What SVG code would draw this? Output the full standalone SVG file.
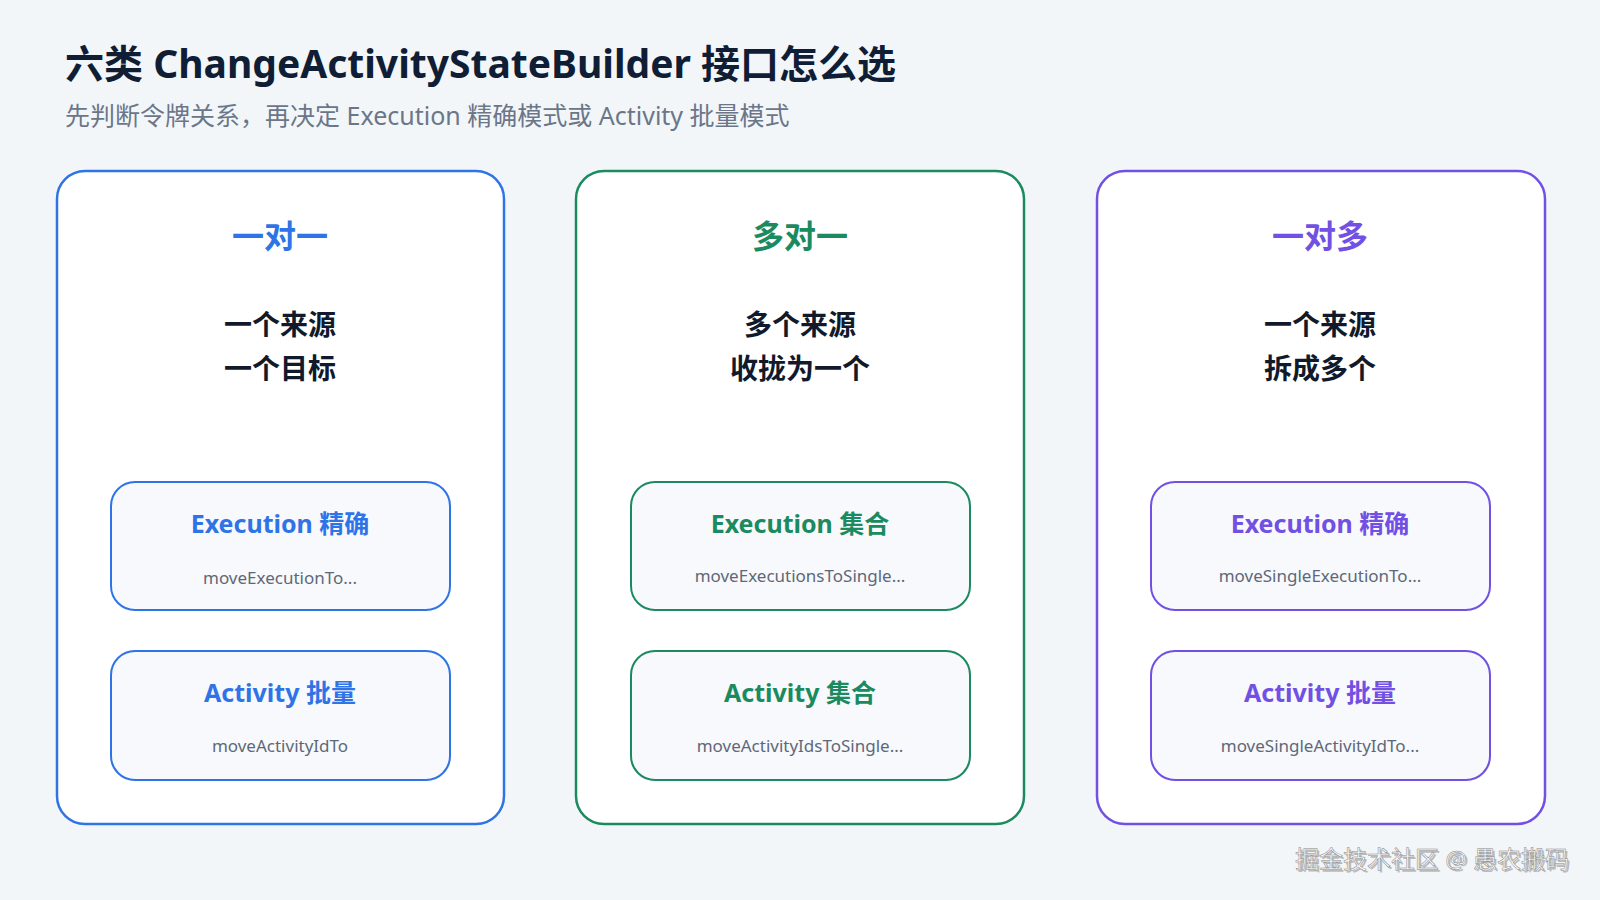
<svg xmlns="http://www.w3.org/2000/svg" width="1600" height="900" viewBox="0 0 1600 900">
<style>
text{font-family:"Noto Sans","Noto Sans CJK SC",sans-serif;text-anchor:middle}
.h{font-size:39px;font-weight:700;fill:#0f1d35;text-anchor:start}
.s{font-size:25px;fill:#6b7689;text-anchor:start}
.ct{font-size:32px;font-weight:700}
.d{font-size:28px;font-weight:700;fill:#111a2b}
.it{font-size:25px;font-weight:700}
.m{font-size:17px;fill:#5f6878}
.card{fill:#fff;stroke-width:2.5}
.box{fill:#f7f9fc;stroke-width:2}
</style>
<rect width="1600" height="900" fill="#f3f6f9"/>
<text class="h" x="65" y="78">六类 ChangeActivityStateBuilder 接口怎么选</text>
<text class="s" x="65" y="125">先判断令牌关系，再决定 Execution 精确模式或 Activity 批量模式</text>
<g id="col1">
<rect class="card" x="57" y="171" width="447" height="653" rx="28" stroke="#2f74e6"/>
<text class="ct" x="280" y="248" fill="#2f74e6">一对一</text>
<text class="d" x="280" y="335">一个来源</text><text class="d" x="280" y="379">一个目标</text>
<g id="n1a"><rect class="box" x="111" y="482" width="339" height="128" rx="24" stroke="#2f74e6"/>
<text class="it" x="280" y="533" fill="#2f74e6">Execution 精确</text><text class="m" x="280" y="584">moveExecutionTo...</text></g>
<g id="n1b"><rect class="box" x="111" y="651" width="339" height="129" rx="24" stroke="#2f74e6"/>
<text class="it" x="280" y="702" fill="#2f74e6">Activity 批量</text><text class="m" x="280" y="752">moveActivityIdTo</text></g>
</g>
<g id="col2">
<rect class="card" x="576" y="171" width="448" height="653" rx="28" stroke="#1b8a5e"/>
<text class="ct" x="800" y="248" fill="#1b8a5e">多对一</text>
<text class="d" x="800" y="335">多个来源</text><text class="d" x="800" y="379">收拢为一个</text>
<g id="n2a"><rect class="box" x="631" y="482" width="339" height="128" rx="24" stroke="#1b8a5e"/>
<text class="it" x="800" y="533" fill="#1b8a5e">Execution 集合</text><text class="m" x="800" y="582">moveExecutionsToSingle...</text></g>
<g id="n2b"><rect class="box" x="631" y="651" width="339" height="129" rx="24" stroke="#1b8a5e"/>
<text class="it" x="800" y="702" fill="#1b8a5e">Activity 集合</text><text class="m" x="800" y="752">moveActivityIdsToSingle...</text></g>
</g>
<g id="col3">
<rect class="card" x="1097" y="171" width="448" height="653" rx="28" stroke="#7150e3"/>
<text class="ct" x="1320" y="248" fill="#7150e3">一对多</text>
<text class="d" x="1320" y="335">一个来源</text><text class="d" x="1320" y="379">拆成多个</text>
<g id="n3a"><rect class="box" x="1151" y="482" width="339" height="128" rx="24" stroke="#7150e3"/>
<text class="it" x="1320" y="533" fill="#7150e3">Execution 精确</text><text class="m" x="1320" y="582">moveSingleExecutionTo...</text></g>
<g id="n3b"><rect class="box" x="1151" y="651" width="339" height="129" rx="24" stroke="#7150e3"/>
<text class="it" x="1320" y="702" fill="#7150e3">Activity 批量</text><text class="m" x="1320" y="752">moveSingleActivityIdTo...</text></g>
</g>
<g id="connectors"/>
<text x="1434" y="870" style="font-size:24px" fill="#333" opacity="0.3">掘金技术社区 @ 愚农搬码</text>
<text x="1432" y="868" style="font-size:24px" fill="#f5f5f5" stroke="#888" stroke-width="0.5">掘金技术社区 @ 愚农搬码</text>
</svg>
